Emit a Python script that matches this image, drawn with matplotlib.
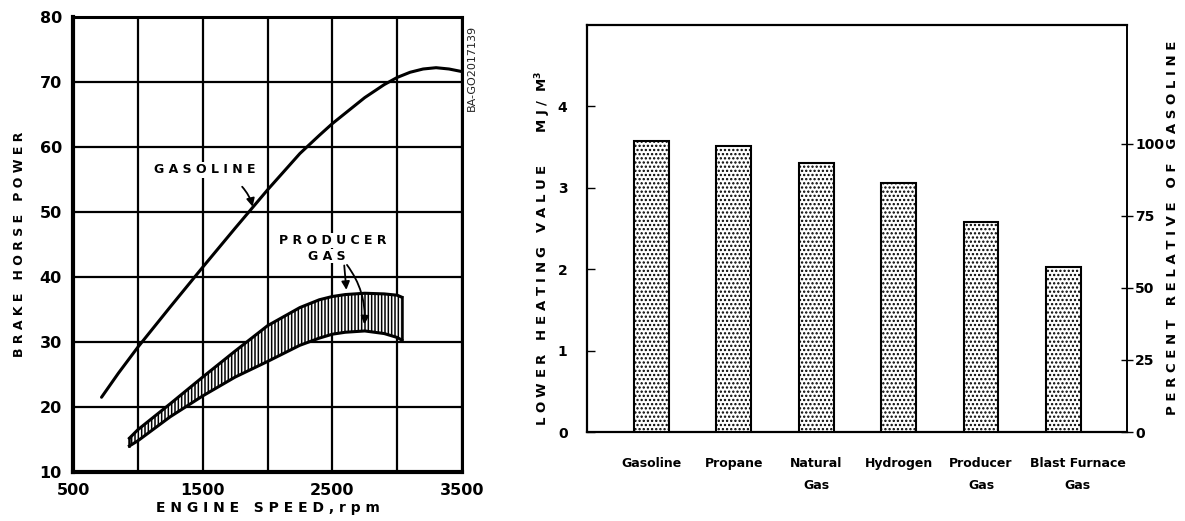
import matplotlib
matplotlib.use("Agg")
import matplotlib.pyplot as plt
import matplotlib.transforms as mtransforms
import numpy as np

# ---------------- data: left chart ----------------
gas_rpm = [720, 850, 1000, 1250, 1500, 1750, 2000, 2250, 2400, 2500, 2650, 2750, 2900, 3000, 3100, 3200, 3300, 3400, 3500]
gas_bhp = [21.5, 25.2, 29.2, 35.4, 41.5, 47.5, 53.4, 59.0, 61.8, 63.6, 66.0, 67.6, 69.6, 70.7, 71.5, 72.0, 72.2, 72.0, 71.6]

pg_rpm = [935, 1000, 1250, 1500, 1750, 2000, 2250, 2400, 2500, 2600, 2750, 2900, 3000, 3035]
pg_upper_bhp = [15.2, 16.5, 20.5, 24.6, 28.6, 32.5, 35.3, 36.5, 37.0, 37.3, 37.5, 37.4, 37.2, 36.9]
pg_lower_bhp = [14.0, 14.8, 18.5, 21.7, 24.6, 27.0, 29.5, 30.6, 31.2, 31.5, 31.7, 31.3, 30.7, 30.3]

left_xticks = [500, 1000, 1500, 2000, 2500, 3000, 3500]
left_xticklabels = ["500", "", "1500", "", "2500", "", "3500"]
left_yticks = [10, 20, 30, 40, 50, 60, 70, 80]

# ---------------- data: right chart ----------------
fuels = ["Gasoline", "Propane", "Natural\nGas", "Hydrogen", "Producer\nGas", "Blast Furnace\nGas"]
lhv = [3.57, 3.51, 3.30, 3.06, 2.58, 2.03]
left_ticks_r = [0, 1, 2, 3, 4]
pct_ticks = [0, 25, 50, 75, 100]
pct_labels = ["0", "25", "50", "75", "100"]
gasoline_ref = 3.54   # value equal to 100 percent on the right scale

plt.rcParams["hatch.linewidth"] = 1.1
fig = plt.figure(figsize=(11.85, 5.21), dpi=100)

# ================= LEFT CHART =================
ax1 = fig.add_axes([73/1185, 1-472/521, (462-73)/1185, (472-17)/521])
ax1.set_xlim(500, 3500)
ax1.set_ylim(10, 80)
ax1.set_xticks(left_xticks)
ax1.set_xticklabels(left_xticklabels, fontsize=11.5, fontweight="bold")
ax1.set_yticks(left_yticks)
ax1.set_yticklabels([str(v) for v in left_yticks], fontsize=11.5, fontweight="bold")
ax1.tick_params(length=0, pad=8)
ax1.grid(True, color="black", linewidth=1.6)
for s in ax1.spines.values():
    s.set_linewidth(2.2)
ax1.spines["left"].set_linewidth(3)
ax1.spines["bottom"].set_linewidth(3)

ax1.plot(gas_rpm, gas_bhp, color="black", linewidth=2.2, solid_capstyle="round", zorder=4)

# producer gas band
ax1.fill_between(pg_rpm, pg_upper_bhp, pg_lower_bhp,
                 facecolor="white", edgecolor="black", hatch="|||||",
                 linewidth=0, zorder=3)
ax1.plot(pg_rpm, pg_upper_bhp, color="black", linewidth=2.2, zorder=4)
ax1.plot(pg_rpm, pg_lower_bhp, color="black", linewidth=2.2, zorder=4)
ax1.plot([pg_rpm[-1], pg_rpm[-1]], [pg_upper_bhp[-1], pg_lower_bhp[-1]],
         color="black", linewidth=1.8, zorder=4)
ax1.plot([pg_rpm[0], pg_rpm[0]], [pg_upper_bhp[0], pg_lower_bhp[0]],
         color="black", linewidth=1.8, zorder=4)

ax1.set_xlabel("E N G I N E   S P E E D , r p m", fontsize=10, fontweight="bold", labelpad=2)
ax1.set_ylabel("B R A K E   H O R S E   P O W E R", fontsize=9, fontweight="bold", labelpad=10)

ax1.text(1515, 56.5, "G A S O L I N E", fontsize=9, fontweight="bold",
         ha="center", va="center", zorder=6,
         bbox=dict(facecolor="white", edgecolor="none", pad=1))
ax1.annotate("", xy=(1890, 50.4), xytext=(1790, 54.2),
             arrowprops=dict(arrowstyle="-|>", color="black", lw=1.3,
                             mutation_scale=12, connectionstyle="arc3,rad=-0.15"),
             zorder=6)
ax1.text(2500, 45.6, "P R O D U C E R", fontsize=9, fontweight="bold",
         ha="center", va="center", zorder=6,
         bbox=dict(facecolor="white", edgecolor="none", pad=0.5))
ax1.text(2460, 43.2, "G A S", fontsize=9, fontweight="bold",
         ha="center", va="center", zorder=6,
         bbox=dict(facecolor="white", edgecolor="none", pad=0.5))
ax1.annotate("", xy=(2610, 37.6), xytext=(2590, 42.2),
             arrowprops=dict(arrowstyle="-|>", color="black", lw=1.3,
                             mutation_scale=12), zorder=6)
ax1.annotate("", xy=(2745, 32.3), xytext=(2600, 42.2),
             arrowprops=dict(arrowstyle="-|>", color="black", lw=1.3,
                             mutation_scale=12, connectionstyle="arc3,rad=-0.2"),
             zorder=6)

fig.text(472/1185, 1-68/521, "BA-GO2017139", rotation=90, fontsize=8,
         ha="center", va="center", color="#222222")

# ================= RIGHT CHART =================
ax2 = fig.add_axes([587/1185, 1-432/521, (1127-587)/1185, (432-25)/521])
x = np.arange(len(fuels))
ax2.bar(x, lhv, width=0.42, facecolor="white", edgecolor="black",
        hatch="....", linewidth=1.5, zorder=3)
ax2.set_xlim(-0.78, len(fuels) - 1 + 0.77)
ax2.set_ylim(0, 5)
ax2.set_yticks(left_ticks_r)
ax2.set_yticklabels([str(v) for v in left_ticks_r], fontsize=10, fontweight="bold")
ax2.tick_params(axis="y", direction="in", length=6, width=1, pad=14)
ax2.set_xticks(x)
ax2.set_xticklabels(fuels, fontsize=9, fontweight="bold", linespacing=1.9)
ax2.tick_params(axis="x", length=0, pad=18)
# nudge the long last label right, as in the original
lab = ax2.get_xticklabels()[-1]
lab.set_transform(lab.get_transform() +
                  mtransforms.ScaledTranslation(14/100, 0, fig.dpi_scale_trans))
for s in ["left", "top", "bottom"]:
    ax2.spines[s].set_linewidth(1.6)
ax2.spines["right"].set_visible(False)

ax3 = ax2.twinx()
ax3.set_ylim(0, 5 * 100 / gasoline_ref)
ax3.set_yticks(pct_ticks)
ax3.set_yticklabels(pct_labels, fontsize=10, fontweight="bold")
ax3.tick_params(axis="y", direction="inout", length=8, width=1, pad=2)
ax3.spines["right"].set_linewidth(1.4)
for s in ["left", "top", "bottom"]:
    ax3.spines[s].set_visible(False)

fig.text(543/1185, 1-248/521,
         "L O W E R   H E A T I N G   V A L U E       M J /  M$^{\\mathbf{3}}$",
         rotation=90, fontsize=9.5, fontweight="bold", ha="center", va="center")
fig.text(1173/1185, 1-228/521,
         "P E R C E N T   R E L A T I V E   O F   G A S O L I N E",
         rotation=90, fontsize=9.5, fontweight="bold", ha="center", va="center")

fig.savefig("out.png", dpi=100)
